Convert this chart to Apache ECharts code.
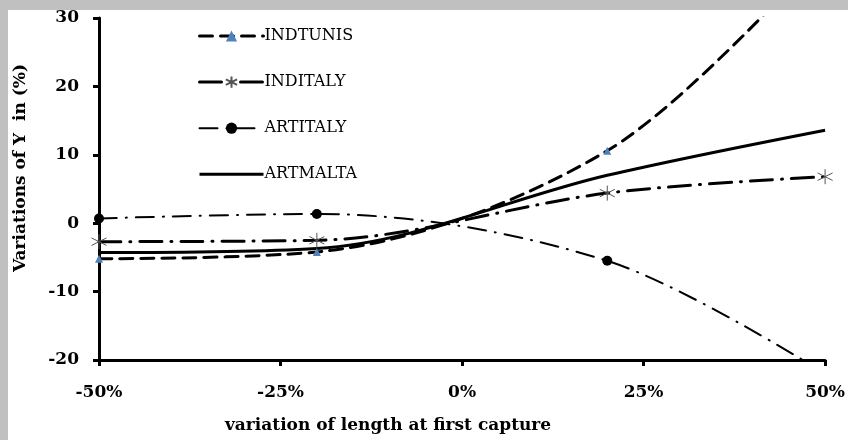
<!DOCTYPE html>
<html>
<head>
<meta charset="utf-8">
<script src="https://cdn.jsdelivr.net/npm/echarts@6/dist/echarts.min.js"></script>
<style>
  html, body { margin: 0; padding: 0; background: #c0c0c0; }
  #frame { position: absolute; left: 8px; top: 10px; width: 840px; height: 430px; background: #ffffff; overflow: hidden; }
  #chart { position: absolute; left: -8px; top: -10px; width: 848px; height: 440px; }
</style>
</head>
<body>
<div id="frame"><div id="chart"></div></div>
<script>
// Variation in length at first capture (%)
const lengthChange = [-50, -20, 20, 50];

// Variations of Y (%) per scenario
const indTunis  = [-5.2, -4.2, 10.6, 40.0];
const indItaly  = [-2.7, -2.5, 4.4, 6.8];
const artItaly  = [0.7, 1.35, -5.5, -22.0];
const artMalta  = [-4.3, -3.7, 7.0, 13.6];

const seriesNames = ['INDTUNIS', 'INDITALY', 'ARTITALY', 'ARTMALTA'];

const xTicks = [-50, -25, 0, 25, 50];
const yTicks = [-20, -10, 0, 10, 20, 30];

const pairs = (ys) => lengthChange.map((x, i) => [x, ys[i]]);

const asterisk = 'path://M0,-10 L0,10 M-8.66,-5 L8.66,5 M-8.66,5 L8.66,-5';

const serif = '"DejaVu Serif", "Liberation Serif", serif';

const chart = echarts.init(document.getElementById('chart'), null, { renderer: 'canvas' });

chart.setOption({
  backgroundColor: 'transparent',
  animation: false,
  grid: { left: 99, right: 19, top: 18, bottom: 80, containLabel: false },
  legend: {
    orient: 'vertical',
    left: 193,
    top: 23,
    itemWidth: 64,
    itemHeight: 14,
    itemGap: 30,
    lineStyle: { width: 3 },
    data: [
      { name: seriesNames[0] },
      { name: seriesNames[1] },
      { name: seriesNames[2], lineStyle: { width: 2 } },
      { name: seriesNames[3], itemStyle: { color: 'rgba(0,0,0,0)', borderColor: 'rgba(0,0,0,0)' } }
    ],
    textStyle: { fontFamily: serif, fontSize: 16, color: '#000', padding: [0, 0, 0, -4] }
  },
  xAxis: {
    type: 'value',
    min: -50, max: 50, interval: 25,
    name: 'variation of length at first capture',
    nameLocation: 'middle',
    nameGap: 57,
    nameTextStyle: {
      fontFamily: serif, fontSize: 17, fontWeight: 'bold', color: '#000',
      padding: [0, 148, 0, 0]
    },
    axisLine: { show: true, onZero: false, lineStyle: { color: '#000', width: 3 } },
    axisTick: { show: true, inside: false, length: 6, lineStyle: { color: '#000', width: 3 } },
    axisLabel: {
      margin: 24,
      fontFamily: serif, fontSize: 17, fontWeight: 'bold', color: '#000',
      formatter: (v) => xTicks.includes(v) ? v + '%' : ''
    },
    splitLine: { show: false }
  },
  yAxis: {
    type: 'value',
    min: -20, max: 30, interval: 10,
    name: 'Variations of Y  in (%)',
    nameLocation: 'middle',
    nameGap: 70,
    nameTextStyle: {
      fontFamily: serif, fontSize: 17, fontWeight: 'bold', color: '#000',
      padding: [0, 0, 0, 42]
    },
    axisLine: { show: true, onZero: false, lineStyle: { color: '#000', width: 3 } },
    axisTick: { show: true, inside: false, length: 6, lineStyle: { color: '#000', width: 3 } },
    axisLabel: {
      margin: 20,
      fontFamily: serif, fontSize: 17, fontWeight: 'bold', color: '#000',
      formatter: (v) => yTicks.includes(v) ? String(v) : ''
    },
    splitLine: { show: false }
  },
  series: [
    {
      name: 'INDTUNIS', type: 'line', smooth: 0.33, clip: true,
      data: pairs(indTunis),
      symbol: 'triangle', symbolSize: 8,
      itemStyle: { color: '#4f81bd' },
      lineStyle: { color: '#000', width: 3, type: [13, 8], cap: 'round' }
    },
    {
      name: 'INDITALY', type: 'line', smooth: 0.33, clip: true,
      data: pairs(indItaly),
      symbol: asterisk, symbolSize: 15,
      itemStyle: { color: 'none', borderColor: '#555', borderWidth: 1 },
      lineStyle: { color: '#000', width: 3, type: [22, 9, 1, 9], cap: 'round' }
    },
    {
      name: 'ARTITALY', type: 'line', smooth: 0.33, clip: true,
      data: pairs(artItaly),
      symbol: 'circle', symbolSize: 10,
      itemStyle: { color: '#000' },
      lineStyle: { color: '#000', width: 2, type: [18, 9, 1, 9], cap: 'round' }
    },
    {
      name: 'ARTMALTA', type: 'line', smooth: 0.33, clip: true,
      data: pairs(artMalta),
      symbol: 'none',
      itemStyle: { color: '#000' },
      lineStyle: { color: '#000', width: 3, type: 'solid' }
    }
  ]
});
</script>
</body>
</html>
